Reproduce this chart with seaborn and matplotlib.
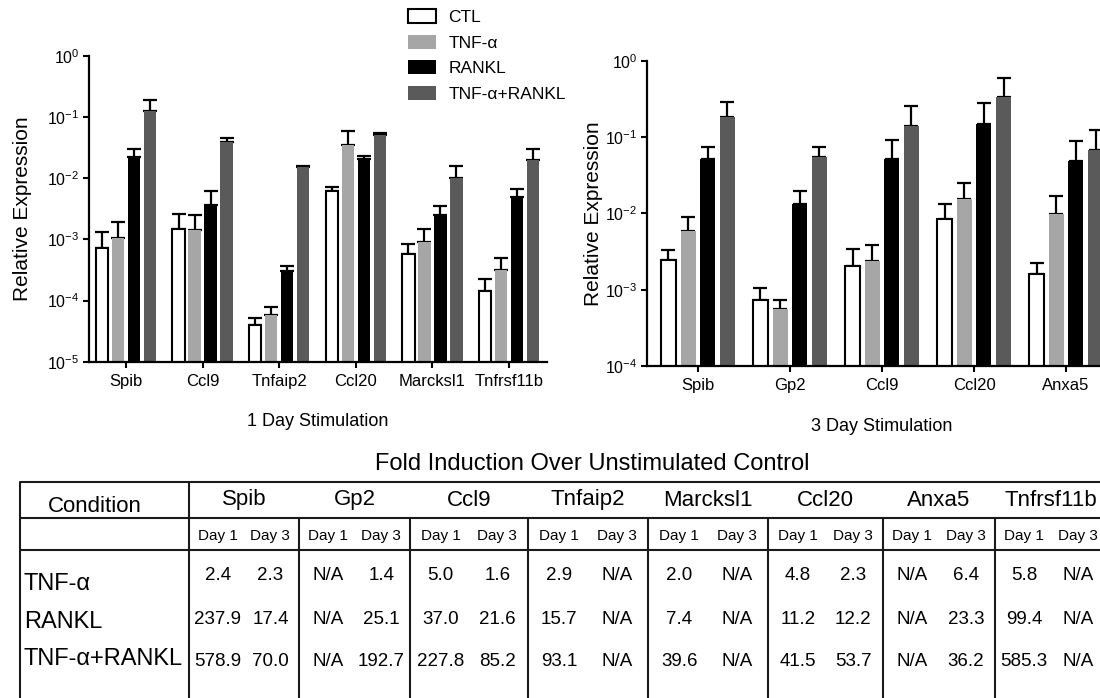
"""
Expressão relativa (qPCR) após 1 e 3 dias de estímulo + tabela de indução.
"""
import numpy as np
import pandas as pd
import matplotlib
matplotlib.use("Agg")
import matplotlib.pyplot as plt
from matplotlib.ticker import LogLocator, LogFormatterMathtext, NullLocator
import seaborn as sns

# ---- dados -------------------------------------------------------------
conditions = ["CTL", "TNF-α", "RANKL", "TNF-α+RANKL"]
colors = ["#ffffff", "#a6a6a6", "#000000", "#5a5a5a"]

genes_day1 = ["Spib", "Ccl9", "Tnfaip2", "Ccl20", "Marcksl1", "Tnfrsf11b"]
day1_ctl = [7.1e-4, 1.5e-3, 4.0e-5, 6.2e-3, 5.7e-4, 1.45e-4]
day1_tnf = [1.06e-3, 1.4e-3, 5.8e-5, 0.035, 9.2e-4, 3.2e-4]
day1_rankl = [0.022, 3.6e-3, 3.0e-4, 0.0207, 2.5e-3, 4.9e-3]
day1_both = [0.125, 0.039, 0.015, 0.0506, 9.9e-3, 0.0197]
day1_ctl_err = [6.2e-4, 1.05e-3, 1.2e-5, 9e-4, 2.8e-4, 7.9e-5]
day1_tnf_err = [8.8e-4, 1.06e-3, 1.9e-5, 0.023, 5.3e-4, 1.8e-4]
day1_rankl_err = [7.8e-3, 2.55e-3, 7e-5, 2.3e-3, 1.05e-3, 1.7e-3]
day1_both_err = [0.061, 7e-3, 8e-4, 4.4e-3, 5.8e-3, 9.8e-3]

genes_day3 = ["Spib", "Gp2", "Ccl9", "Ccl20", "Anxa5"]
day3_ctl = [2.43e-3, 7.3e-4, 2.05e-3, 8.5e-3, 1.6e-3]
day3_tnf = [5.9e-3, 5.5e-4, 2.36e-3, 0.0152, 9.9e-3]
day3_rankl = [0.052, 0.0132, 0.052, 0.150, 0.0483]
day3_both = [0.182, 0.055, 0.141, 0.332, 0.0673]
day3_ctl_err = [8.5e-4, 3.3e-4, 1.33e-3, 4.9e-3, 6.4e-4]
day3_tnf_err = [3.1e-3, 1.9e-4, 1.54e-3, 0.010, 7.0e-3]
day3_rankl_err = [0.023, 6.4e-3, 0.040, 0.132, 0.040]
day3_both_err = [0.106, 0.0186, 0.112, 0.255, 0.058]

# tabela: dia 1 / dia 3 para cada gene (None = N/A)
table_genes = ["Spib", "Gp2", "Ccl9", "Tnfaip2", "Marcksl1", "Ccl20", "Anxa5", "Tnfrsf11b"]
table_conditions = ["TNF-α", "RANKL", "TNF-α+RANKL"]
fold_tnf = [2.4, 2.3, None, 1.4, 5.0, 1.6, 2.9, None, 2.0, None, 4.8, 2.3, None, 6.4, 5.8, None]
fold_rankl = [237.9, 17.4, None, 25.1, 37.0, 21.6, 15.7, None, 7.4, None, 11.2, 12.2, None, 23.3, 99.4, None]
fold_both = [578.9, 70.0, None, 192.7, 227.8, 85.2, 93.1, None, 39.6, None, 41.5, 53.7, None, 36.2, 585.3, None]


def long_df(genes, series):
    rows = []
    for cond, vals in zip(conditions, series):
        for g, v in zip(genes, vals):
            rows.append({"gene": g, "condition": cond, "value": v})
    return pd.DataFrame(rows)


def bar_panel(ax, genes, means, errs, width, gap, ylim, xlim, xlabel):
    ax.set_yscale("log")
    sns.barplot(data=long_df(genes, means), x="gene", y="value", hue="condition",
                order=genes, hue_order=conditions, palette=colors, saturation=1,
                width=width, gap=gap, errorbar=None, legend=False, ax=ax)
    bars = list(ax.containers)
    # barras de erro só para cima, como no Prism
    for cont, m, e in zip(bars, means, errs):
        xs = [p.get_x() + p.get_width() / 2 for p in cont.patches]
        ax.errorbar(xs, m, yerr=[np.zeros(len(e)), e], fmt="none", ecolor="black",
                    elinewidth=1.6, capsize=5, capthick=1.6, zorder=1)
        for p in cont.patches:
            p.set_zorder(2)
            p.set_edgecolor("none")
            p.set_linewidth(0)
    for p in bars[0].patches:
        p.set_edgecolor("black")
        p.set_linewidth(1.5)
    ax.set_ylim(*ylim)
    ax.set_xlim(*xlim)
    ax.yaxis.set_major_locator(LogLocator(base=10, numticks=10))
    ax.yaxis.set_major_formatter(LogFormatterMathtext())
    ax.yaxis.set_minor_locator(NullLocator())
    ax.tick_params(axis="both", which="major", length=4, width=1.5,
                   labelsize=11.5, colors="black", pad=3)
    ax.tick_params(axis="x", pad=5, labelsize=12)
    for s in ["left", "bottom"]:
        ax.spines[s].set_linewidth(1.6)
        ax.spines[s].set_color("black")
    sns.despine(ax=ax)
    ax.set_ylabel("Relative Expression", fontsize=15)
    ax.set_xlabel(xlabel, fontsize=13)
    return bars


sns.set_style("ticks")
plt.rcParams["font.family"] = ["Liberation Sans", "DejaVu Sans"]
plt.rcParams["mathtext.default"] = "regular"
plt.rcParams["axes.unicode_minus"] = True
plt.rcParams["text.color"] = "black"
plt.rcParams["axes.labelcolor"] = "black"

fig = plt.figure(figsize=(11, 6.98), dpi=100)
W, H = 1100, 698

ax1 = fig.add_axes([89 / W, 1 - 361.7 / H, 458 / W, 306 / H])
bars1 = bar_panel(ax1, genes_day1,
                  [day1_ctl, day1_tnf, day1_rankl, day1_both],
                  [day1_ctl_err, day1_tnf_err, day1_rankl_err, day1_both_err],
                  0.836, 0.22, (1e-5, 1), (-0.483, 5.496), "1 Day Stimulation")
ax1.xaxis.set_label_coords(0.5, -0.168)
ax1.yaxis.set_label_coords(-0.125, 0.5)

ax2 = fig.add_axes([647 / W, 1 - 366 / H, 470 / W, 305.3 / H])
bar_panel(ax2, genes_day3,
          [day3_ctl, day3_tnf, day3_rankl, day3_both],
          [day3_ctl_err, day3_tnf_err, day3_rankl_err, day3_both_err],
          0.854, 0.24, (1e-4, 1), (-0.553, 4.553), "3 Day Stimulation")
ax2.xaxis.set_label_coords(0.5, -0.171)
ax2.yaxis.set_label_coords(-0.094, 0.5)

fig.legend([c.patches[0] for c in bars1], conditions,
           loc="upper left", bbox_to_anchor=(408 / W, 1 - 9 / H),
           frameon=False, fontsize=12.5, borderpad=0, borderaxespad=0,
           handlelength=1.62, handleheight=0.86, handletextpad=0.7,
           labelspacing=0.56)

# ---- tabela (coordenadas em pixels) -------------------------------------
tab = fig.add_axes([0, 0, 1, 1])
tab.set_xlim(0, W)
tab.set_ylim(H, 0)
tab.axis("off")
tab.patch.set_alpha(0)

tab.text(592, 464, "Fold Induction Over Unstimulated Control", fontsize=17,
         ha="center", va="center")

edges = [189, 299, 410, 528, 648, 768, 883, 995, 1107]
lc, lw = "#1a1a1a", 1.5
for y in [482, 518, 550]:
    tab.plot([20, W + 5], [y, y], color=lc, lw=lw, solid_capstyle="butt")
tab.plot([20, 20], [482, H + 5], color=lc, lw=lw)
tab.plot([189, 189], [482, H + 5], color=lc, lw=lw)
for x in edges[1:-1]:
    tab.plot([x, x], [518, H + 5], color=lc, lw=lw)

tab.text(95, 507, "Condition", fontsize=16, ha="center", va="center")
rows = [fold_tnf, fold_rankl, fold_both]
row_y = [576, 620, 662]
label_y = [584, 622, 659]
for i, g in enumerate(table_genes):
    left, right = edges[i], edges[i + 1]
    w = right - left
    tab.text((left + right) / 2, 500, g, fontsize=16, ha="center", va="center")
    for k, frac in enumerate([0.26, 0.74]):
        cx = left + frac * w
        tab.text(cx, 536, f"Day {1 if k == 0 else 3}", fontsize=11, ha="center", va="center")
        for vals, ry in zip(rows, row_y):
            v = vals[2 * i + k]
            s = "N/A" if v is None else f"{v:.1f}"
            tab.text(cx, ry, s, fontsize=13.5, ha="center", va="center")
for lab, ly in zip(table_conditions, label_y):
    tab.text(24, ly, lab, fontsize=17, ha="left", va="center")

fig.savefig("out.png", dpi=100)
